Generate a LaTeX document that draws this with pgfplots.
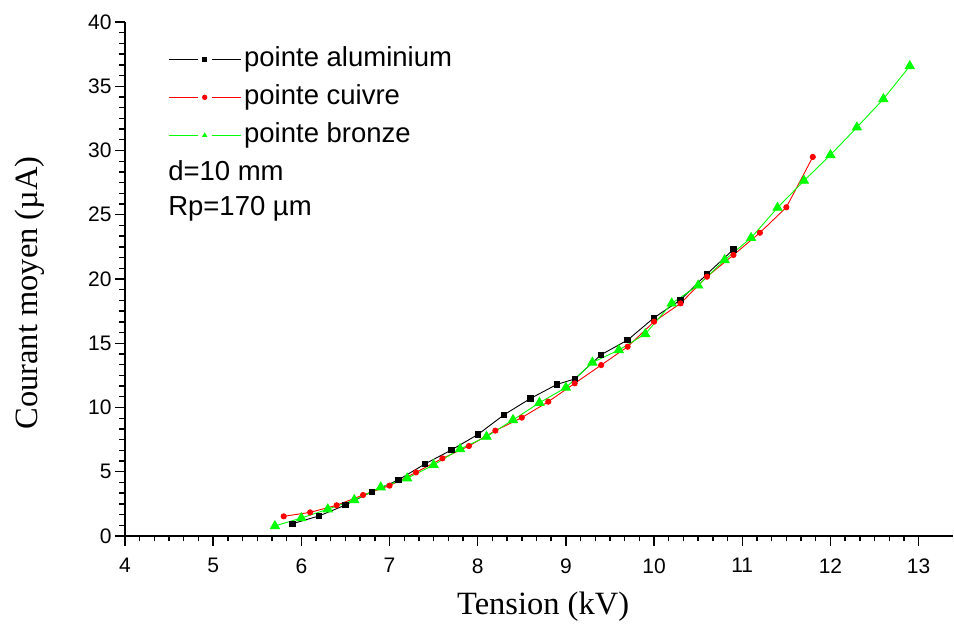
\documentclass[border=0pt]{standalone}
\usepackage{pgfplots}
\pgfplotsset{compat=1.18}
\usepackage{fontspec}
\setmainfont{Liberation Sans}
\newfontfamily\seriffont{Liberation Serif}
\definecolor{mygreen}{RGB}{0,255,0}
\definecolor{myred}{RGB}{255,0,0}

\pgfplotstableread{
x y
5.9 0.96
6.2 1.56
6.5 2.41
6.8 3.45
7.1 4.36
7.4 5.6
7.7 6.69
8.0 7.89
8.3 9.44
8.6 10.71
8.9 11.8
9.1 12.22
9.4 14.11
9.7 15.25
10.0 16.99
10.3 18.37
10.6 20.39
10.9 22.3
}\alu

\pgfplotstableread{
x y
5.8 1.53
6.1 1.84
6.4 2.39
6.7 3.19
7.0 3.92
7.3 4.95
7.6 6.04
7.9 7.0
8.2 8.2
8.5 9.21
8.8 10.45
9.1 11.88
9.4 13.3
9.7 14.73
10.0 16.68
10.3 18.1
10.6 20.18
10.9 21.87
11.2 23.6
11.5 25.58
11.8 29.5
}\cuivre

\pgfplotstableread{
x y
5.7 0.78
6.0 1.4
6.3 2.08
6.6 2.8
6.9 3.79
7.2 4.49
7.5 5.53
7.8 6.77
8.1 7.73
8.4 9.03
8.7 10.37
9.0 11.55
9.3 13.5
9.6 14.47
9.9 15.72
10.2 18.1
10.5 19.5
10.8 21.48
11.1 23.2
11.4 25.55
11.7 27.65
12.0 29.65
12.3 31.8
12.6 34.0
12.9 36.57
}\bronze

\begin{document}
\begin{tikzpicture}
\begin{axis}[
  name=ax,
  width=828pt, height=514pt, scale only axis,
  xmin=4, xmax=13.39, ymin=0, ymax=40,
  axis x line*=bottom, axis y line*=left,
  axis line style={line width=1.6pt},
  xtick={4,...,13}, ytick={0,5,...,40},
  minor x tick num=5, minor y tick num=5,
  tick align=outside,
  major tick length=10pt, minor tick length=5.5pt,
  every tick/.style={black, line width=1.4pt},
  tick label style={font=\fontsize{21}{21}\selectfont},
  xticklabel style={yshift=-9pt},
  /pgf/number format/assume math mode=true,
  xlabel={Tension (kV)},
  ylabel={Courant moyen (µA)},
  label style={font=\seriffont\fontsize{32.5}{32.5}\selectfont},
  xlabel style={at={(axis description cs:0.505,-0.138)}, anchor=center},
  ylabel style={at={(axis description cs:-0.115,0.473)}, anchor=center},
  clip=false,
  legend image code/.code={
    \draw[#1, mark=none] (0pt,0pt) -- (29pt,0pt) (43pt,0pt) -- (72pt,0pt);
    \path[#1, mark size=2.2pt] plot coordinates {(36pt,0pt)};
  },
  legend style={at={(axis description cs:0.052,0.955)}, anchor=north west,
    draw=none, fill=none, inner sep=0pt, row sep=10pt, column sep=2pt,
    font=\fontsize{27.5}{27.5}\selectfont,
    nodes={inner sep=1pt, text depth=6pt, text height=20pt}},
  legend cell align=left,
]
\addplot[black, line width=0.9pt, mark=square*, mark size=2.7pt, mark options={solid}] table[x=x,y=y] {\alu};
\addlegendentry{pointe aluminium}
\addplot[myred, line width=0.9pt, mark=*, mark size=2.6pt, mark options={solid}] table[x=x,y=y] {\cuivre};
\addlegendentry{pointe cuivre}
\addplot[mygreen, line width=0.9pt, mark=triangle*, mark size=5.2pt, mark options={solid}] table[x=x,y=y] {\bronze};
\addlegendentry{pointe bronze}
\node[anchor=west, font=\fontsize{27.5}{27.5}\selectfont, inner sep=0pt] at (axis description cs:0.052,0.710) {d=10 mm};
\node[anchor=west, font=\fontsize{27.5}{27.5}\selectfont, inner sep=0pt] at (axis description cs:0.052,0.636) {Rp=170 µm};
\end{axis}
\pgfresetboundingbox
\path[use as bounding box] ([shift={(-125pt,-90pt)}]ax.south west) rectangle ([shift={(1pt,22pt)}]ax.north east);
\end{tikzpicture}
\end{document}
